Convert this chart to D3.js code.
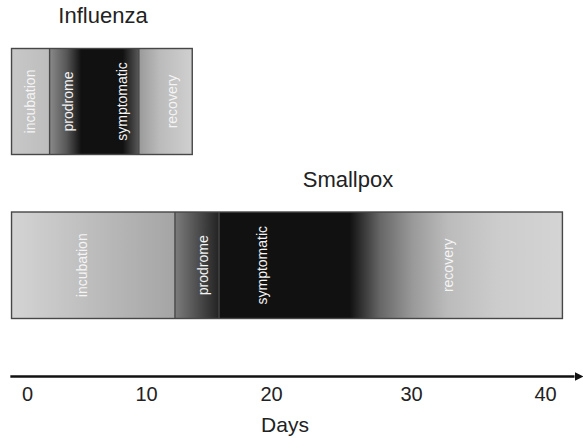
<!DOCTYPE html>
<html lang="en">
<head>
<meta charset="UTF-8">
<title>Disease phases</title>
<style>
  body { margin: 0; background: #fff; }
  svg { display: block; font-family: "Liberation Sans", Arial, sans-serif; }
</style>
</head>
<body>
<script src="https://cdnjs.cloudflare.com/ajax/libs/d3/7.8.5/d3.min.js"></script>
<script>
// tick labels (days)
var dayTicks = [0, 10, 20, 30, 40];
var axisExtent = [-1.4, 42.8];

// phase names
var phases = ['incubation', 'prodrome', 'symptomatic', 'recovery'];

// influenza: phase boundaries (days), which boundaries get a line, label positions,
// shading (0 = mild, 1 = severe)
var fluBounds = [-1.3, 1.9, 4.6, 9.4, 13.7];
var fluDividers = [1.9, 9.4];
var fluLabelDays = [0.25, 3.45, 7.95, 12.1];
var fluShadeDays = [-1.3, 1.85, 1.9, 3.36, 4.55, 8.05, 9.33, 9.4, 11.1, 13.7];
var fluShadeLevels = [0.06, 0.12, 0.38, 0.65, 1, 1, 0.65, 0.3, 0.13, 0.02];

// smallpox
var poxBounds = [-1.3, 12.32, 15.84, 25.6, 41.3];
var poxDividers = [12.32, 15.84];
var poxLabelDays = [4.6, 14.56, 19.3, 32.76];
var poxShadeDays = [-1.3, 12.25, 12.4, 15.76, 15.9, 25.64, 27.8, 30.15, 32.7, 36.4, 41.3];
var poxShadeLevels = [0.0, 0.24, 0.46, 0.9, 1, 1, 0.56, 0.3, 0.13, 0.04, 0];

var width = 583, height = 438;

var svg = d3.select('body').append('svg')
    .attr('width', width)
    .attr('height', height);

// the day scale of the figure is not quite even, so follow the printed ticks
var x = d3.scaleLinear()
    .domain(dayTicks)
    .range([27, 146, 271, 411, 545]);

var shade = d3.scaleLinear()
    .domain([0, 1])
    .range(['#d4d4d4', '#111111']);

var defs = svg.append('defs');

function drawBar(id, title, titleX, titleY, top, barHeight, bounds, dividers, labelDays, shadeDays, shadeLevels) {
    var x0 = x(bounds[0]), x1 = x(bounds[bounds.length - 1]);

    var grad = defs.append('linearGradient')
        .attr('id', id)
        .attr('gradientUnits', 'userSpaceOnUse')
        .attr('x1', x0).attr('x2', x1)
        .attr('y1', 0).attr('y2', 0);

    grad.selectAll('stop')
        .data(shadeDays)
        .enter()
        .append('stop')
        .attr('offset', function(d) { return (x(d) - x0) / (x1 - x0); })
        .attr('stop-color', function(d, i) { return shade(shadeLevels[i]); });

    var g = svg.append('g').attr('class', 'bar-' + id);

    g.append('rect')
        .attr('x', x0)
        .attr('y', top)
        .attr('width', x1 - x0)
        .attr('height', barHeight)
        .attr('fill', 'url(#' + id + ')');

    // phase dividers
    g.selectAll('line.divider')
        .data(dividers)
        .enter()
        .append('line')
        .attr('class', 'divider')
        .attr('x1', function(d) { return x(d); })
        .attr('x2', function(d) { return x(d); })
        .attr('y1', top)
        .attr('y2', top + barHeight)
        .attr('stroke', '#474747')
        .attr('stroke-width', 1.4);

    g.append('rect')
        .attr('x', x0)
        .attr('y', top)
        .attr('width', x1 - x0)
        .attr('height', barHeight)
        .attr('fill', 'none')
        .attr('stroke', '#474747')
        .attr('stroke-width', 1.4);

    g.selectAll('text.phase')
        .data(phases)
        .enter()
        .append('text')
        .attr('class', 'phase')
        .attr('transform', function(d, i) {
            return 'translate(' + x(labelDays[i]) + ',' + (top + barHeight / 2) + ') rotate(-90)';
        })
        .attr('text-anchor', 'middle')
        .attr('dominant-baseline', 'central')
        .attr('fill', '#f4f4f4')
        .style('font-size', '14px')
        .text(function(d) { return d; });

    svg.append('text')
        .attr('x', titleX)
        .attr('y', titleY)
        .attr('text-anchor', 'middle')
        .attr('fill', '#222')
        .style('font-size', '22px')
        .text(title);
}

drawBar('flu', 'Influenza', 103, 23, 48.5, 106, fluBounds, fluDividers, fluLabelDays, fluShadeDays, fluShadeLevels);
drawBar('pox', 'Smallpox', 348, 187, 212, 106.5, poxBounds, poxDividers, poxLabelDays, poxShadeDays, poxShadeLevels);

// axis
var axisY = 376.5;

defs.append('marker')
    .attr('id', 'arrow')
    .attr('viewBox', '0 0 10 10')
    .attr('refX', 0)
    .attr('refY', 5)
    .attr('markerWidth', 4)
    .attr('markerHeight', 4)
    .attr('orient', 'auto')
    .append('path')
    .attr('d', 'M0,0L10,5L0,10Z')
    .attr('fill', '#111');

svg.append('line')
    .attr('x1', x(axisExtent[0]))
    .attr('x2', x(axisExtent[1]) - 8)
    .attr('y1', axisY)
    .attr('y2', axisY)
    .attr('stroke', '#111')
    .attr('stroke-width', 2.3)
    .attr('marker-end', 'url(#arrow)');

var xAxis = d3.axisBottom(x)
    .tickValues(dayTicks)
    .tickSize(0)
    .tickPadding(0)
    .tickFormat(d3.format('d'));

var axisG = svg.append('g')
    .attr('class', 'x-axis')
    .attr('transform', 'translate(0,' + axisY + ')')
    .call(xAxis);

axisG.select('.domain').remove();
axisG.selectAll('.tick text')
    .attr('dy', null)
    .attr('y', 24.5)
    .attr('fill', '#222')
    .style('font-family', '"Liberation Sans", Arial, sans-serif')
    .style('font-size', '20px');

svg.append('text')
    .attr('x', 285)
    .attr('y', 432)
    .attr('text-anchor', 'middle')
    .attr('fill', '#222')
    .style('font-size', '21px')
    .text('Days');
</script>
</body>
</html>
